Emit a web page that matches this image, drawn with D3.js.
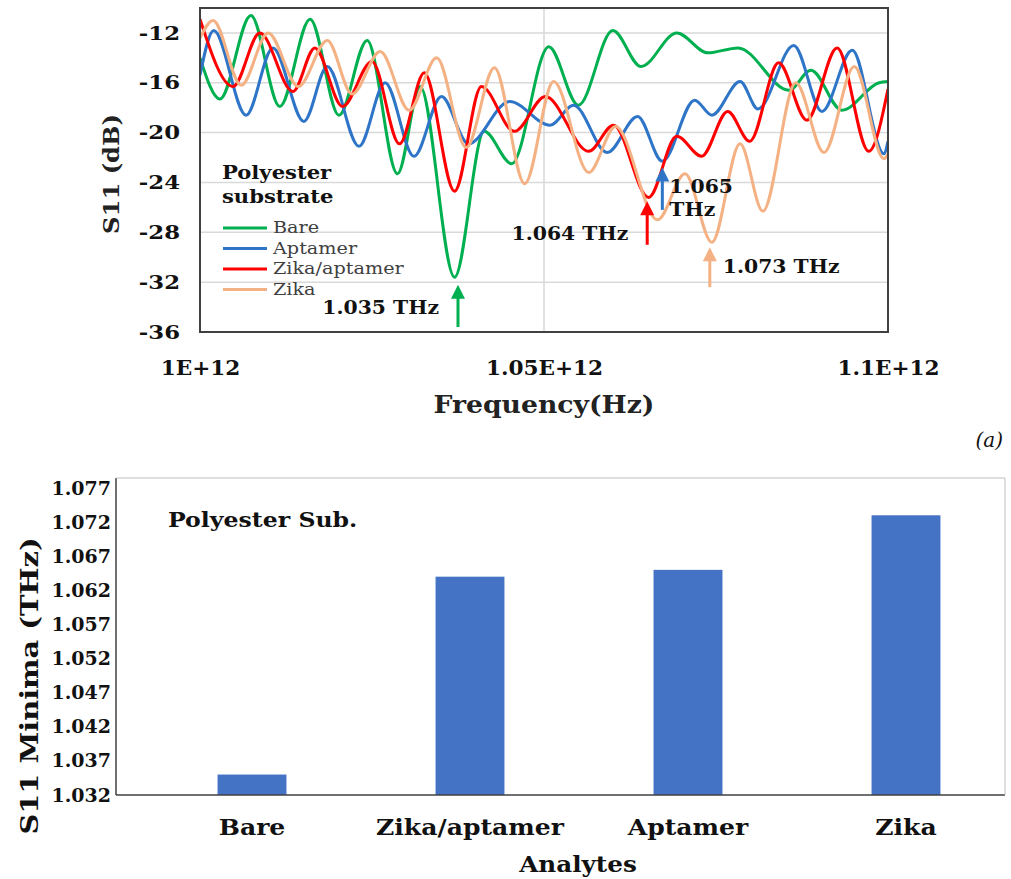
<!DOCTYPE html>
<html>
<head>
<meta charset="utf-8">
<script src="https://cdn.jsdelivr.net/npm/d3@7"></script>
<style>
  body { margin: 0; background: #fff; }
  text { font-family: Georgia, "DejaVu Serif", serif; }
</style>
</head>
<body>
<svg id="chart" width="1011" height="879"></svg>
<script>
// ---- data: top chart (frequency in GHz, S11 in dB) ----
let seriesNames = ["Bare", "Aptamer", "Zika/aptamer", "Zika"];
let seriesColors = ["#00b050", "#2e75c8", "#ff0000", "#f4b183"];

let freqBare = [1000, 1002.9, 1007.4, 1011.6, 1016.0, 1020.2, 1024.3, 1028.7, 1032.0, 1037.0, 1041.3, 1045.3, 1050.7, 1055.0, 1060.0, 1064.1, 1069.3, 1073.8, 1078.2, 1085.6, 1088.8, 1093.3, 1098.7, 1100];
let s11Bare  = [-14.0, -17.3, -10.6, -17.9, -10.9, -18.6, -12.6, -23.3, -16.3, -31.6, -19.9, -22.5, -13.1, -17.8, -11.8, -14.7, -12.0, -13.6, -13.2, -16.6, -15.0, -18.2, -16.0, -15.9];

let freqAptamer = [1000, 1002.0, 1006.7, 1010.6, 1015.1, 1018.5, 1023.1, 1026.9, 1031.1, 1035.1, 1039.0, 1045.0, 1050.9, 1054.3, 1059.2, 1063.6, 1067.2, 1071.9, 1074.4, 1078.5, 1081.1, 1086.3, 1090.4, 1094.8, 1099.4, 1100];
let s11Aptamer  = [-15.4, -11.8, -18.6, -13.2, -19.1, -14.7, -21.1, -16.0, -21.9, -17.1, -20.9, -17.5, -19.4, -17.8, -21.6, -18.7, -22.3, -17.4, -18.6, -15.9, -18.1, -13.0, -18.3, -13.4, -21.7, -20.7];

let freqZikaApt = [1000, 1004.8, 1008.7, 1013.5, 1016.7, 1020.7, 1025.0, 1029.0, 1032.6, 1037.0, 1040.9, 1045.7, 1050.2, 1056.5, 1060.1, 1065.2, 1069.3, 1072.9, 1076.7, 1079.9, 1084.1, 1088.2, 1092.6, 1097.2, 1100];
let s11ZikaApt  = [-10.9, -16.3, -12.0, -16.7, -13.2, -17.9, -14.3, -20.9, -15.2, -24.7, -16.3, -19.9, -17.1, -21.5, -19.4, -25.2, -20.3, -21.9, -18.3, -20.7, -14.4, -19.0, -13.2, -21.5, -16.5];

let freqZika = [1000, 1001.9, 1006.0, 1009.9, 1014.3, 1018.5, 1022.1, 1026.2, 1030.4, 1034.4, 1038.7, 1042.8, 1047.2, 1051.4, 1056.5, 1060.4, 1066.5, 1070.5, 1074.4, 1078.5, 1081.8, 1086.6, 1090.7, 1095.1, 1099.4, 1100];
let s11Zika  = [-12.4, -11.0, -16.2, -12.0, -16.3, -12.6, -16.9, -13.5, -18.2, -14.0, -21.2, -14.8, -24.1, -15.9, -23.2, -19.5, -27.0, -23.3, -28.8, -20.9, -26.3, -16.0, -21.6, -14.7, -22.1, -21.7];

let xTicksTop = [1000, 1050, 1100];
let xTickLabelsTop = ["1E+12", "1.05E+12", "1.1E+12"];
let yTicksTop = [-36, -32, -28, -24, -20, -16, -12];

// arrows marking the minima
let arrowFreq  = [1037.5, 1065.0, 1067.2, 1074.1];
let arrowTip   = [-32.2, -25.5, -22.8, -29.2];
let arrowTail  = [-35.6, -29.0, -26.2, -32.4];
let arrowColor = ["#00b050", "#ff0000", "#2e75c8", "#f4b183"];
let arrowLabel = [["1.035 THz"], ["1.064 THz"], ["1.065", "THz"], ["1.073 THz"]];

// ---- data: bottom chart ----
let analytes = ["Bare", "Zika/aptamer", "Aptamer", "Zika"];
let minimaTHz = [1.035, 1.064, 1.065, 1.073];
let yTicksBottom = [1.032, 1.037, 1.042, 1.047, 1.052, 1.057, 1.062, 1.067, 1.072, 1.077];

const svg = d3.select("#chart");
svg.append("rect").attr("width", 1011).attr("height", 879).attr("fill", "#fff");

// the source figure is stretched sideways, so widen the text glyphs a bit
function widen(sel, k) {
  sel.each(function() {
    let L = this.getComputedTextLength();
    this.setAttribute("textLength", L * k);
    this.setAttribute("lengthAdjust", "spacingAndGlyphs");
  });
}

// ================= top chart =================
let pA = { left: 200, right: 888, top: 8, bottom: 332 };

const xTop = d3.scaleLinear().domain([1000, 1100]).range([pA.left, pA.right]);
const yTop = d3.scaleLinear().domain([-36, -10]).range([pA.bottom, pA.top]);

const gA = svg.append("g");

// grid
gA.append("g")
  .selectAll("line")
  .data(yTicksTop.filter(d => d > -36))
  .enter().append("line")
  .attr("x1", pA.left).attr("x2", pA.right)
  .attr("y1", d => yTop(d)).attr("y2", d => yTop(d))
  .attr("stroke", "#d9d9d9").attr("stroke-width", 1.5);

gA.append("line")
  .attr("x1", xTop(1050)).attr("x2", xTop(1050))
  .attr("y1", pA.top).attr("y2", pA.bottom)
  .attr("stroke", "#d9d9d9").attr("stroke-width", 1.5);

// series
let series = [
  [freqBare, s11Bare],
  [freqAptamer, s11Aptamer],
  [freqZikaApt, s11ZikaApt],
  [freqZika, s11Zika]
];

svg.append("clipPath").attr("id", "clipA")
  .append("rect")
  .attr("x", pA.left).attr("y", pA.top)
  .attr("width", pA.right - pA.left).attr("height", pA.bottom - pA.top);

const line = d3.line()
  .x(d => xTop(d[0]))
  .y(d => yTop(d[1]))
  .curve(d3.curveMonotoneX);

series.forEach(function(s, i) {
  let pts = s[0].map((f, k) => [f, s[1][k]]);
  gA.append("path")
    .datum(pts)
    .attr("clip-path", "url(#clipA)")
    .attr("d", line)
    .attr("fill", "none")
    .attr("stroke", seriesColors[i])
    .attr("stroke-width", 3)
    .attr("stroke-linejoin", "round");
});

// frame
gA.append("rect")
  .attr("x", pA.left).attr("y", pA.top)
  .attr("width", pA.right - pA.left).attr("height", pA.bottom - pA.top)
  .attr("fill", "none").attr("stroke", "#404040").attr("stroke-width", 2);

// axes
const yAxisTop = d3.axisLeft(yTop).tickValues(yTicksTop)
  .tickFormat(d => String(d)).tickSize(0).tickPadding(20);
gA.append("g")
  .attr("transform", `translate(${pA.left},0)`)
  .call(yAxisTop)
  .call(g => g.select(".domain").remove())
  .selectAll("text")
  .attr("font-size", 19).attr("font-weight", "bold").attr("fill", "#111")
  .call(widen, 1.2);

const xAxisTop = d3.axisBottom(xTop).tickValues(xTicksTop)
  .tickFormat((d, i) => xTickLabelsTop[i]).tickSize(0).tickPadding(29);
gA.append("g")
  .attr("transform", `translate(0,${pA.bottom})`)
  .call(xAxisTop)
  .call(g => g.select(".domain").remove())
  .selectAll("text")
  .attr("font-size", 20).attr("font-weight", "bold").attr("fill", "#111")
  .call(widen, 1.08);

gA.append("text")
  .attr("transform", "translate(119,174) rotate(-90)")
  .attr("text-anchor", "middle")
  .attr("font-size", 22).attr("font-weight", "bold").attr("fill", "#222")
  .text("S11 (dB)")
  .call(widen, 1.1);

gA.append("text")
  .attr("x", 544).attr("y", 413)
  .attr("text-anchor", "middle")
  .attr("font-size", 24).attr("font-weight", "bold").attr("fill", "#222")
  .text("Frequency(Hz)")
  .call(widen, 1.11);

// legend
gA.append("text").attr("x", 222).attr("y", 179)
  .attr("font-size", 19).attr("font-weight", "bold").attr("fill", "#111")
  .text("Polyester").call(widen, 1.11);
gA.append("text").attr("x", 222).attr("y", 203)
  .attr("font-size", 19).attr("font-weight", "bold").attr("fill", "#111")
  .text("substrate").call(widen, 1.11);

seriesNames.forEach(function(n, i) {
  let ly = 228 + i * 20.5;
  gA.append("line")
    .attr("x1", 223).attr("x2", 267)
    .attr("y1", ly).attr("y2", ly)
    .attr("stroke", seriesColors[i]).attr("stroke-width", 3);
  gA.append("text")
    .attr("x", 273).attr("y", ly + 5)
    .attr("font-size", 16).attr("fill", "#404040")
    .text(n).call(widen, 1.2);
});

// arrows + labels
arrowFreq.forEach(function(f, i) {
  let ax = xTop(f), tipY = yTop(arrowTip[i]), tailY = yTop(arrowTail[i]);
  gA.append("line")
    .attr("x1", ax).attr("x2", ax)
    .attr("y1", tipY + 10).attr("y2", tailY)
    .attr("stroke", arrowColor[i]).attr("stroke-width", 3);
  gA.append("path")
    .attr("d", `M${ax},${tipY} L${ax - 7},${tipY + 14} L${ax + 7},${tipY + 14} Z`)
    .attr("fill", arrowColor[i]);
});

function arrowText(i, tx, ty, anchor) {
  let t = gA.append("text")
    .attr("x", tx).attr("y", ty)
    .attr("text-anchor", anchor)
    .attr("font-size", 18).attr("font-weight", "bold").attr("fill", "#111");
  arrowLabel[i].forEach(function(s, k) {
    t.append("tspan").attr("x", tx).attr("dy", k === 0 ? 0 : 23).text(s);
  });
  widen(t.selectAll("tspan"), 1.13);
}
arrowText(0, xTop(arrowFreq[0]) - 19, yTop(arrowTip[0]) + 29, "end");
arrowText(1, xTop(arrowFreq[1]) - 19, yTop(arrowTip[1]) + 39, "end");
arrowText(2, xTop(arrowFreq[2]) + 7, yTop(arrowTip[2]) + 25, "start");
arrowText(3, xTop(arrowFreq[3]) + 13, yTop(arrowTip[3]) + 26, "start");

svg.append("text")
  .attr("x", 1003).attr("y", 447)
  .attr("text-anchor", "end")
  .attr("font-size", 20).attr("font-style", "italic").attr("fill", "#111")
  .text("(a)");

// ================= bottom chart =================
let pB = { left: 116, right: 1005, top: 478, bottom: 795 };

const yBot = d3.scaleLinear().domain([1.032, 1.077]).range([pB.bottom, 488]);
const xBot = d3.scaleBand().domain(analytes).range([143, 1015])
  .paddingInner(0.684).paddingOuter(0.342);

const gB = svg.append("g");

gB.selectAll("rect.bar")
  .data(analytes)
  .enter().append("rect")
  .attr("class", "bar")
  .attr("x", d => xBot(d))
  .attr("width", xBot.bandwidth())
  .attr("y", (d, i) => yBot(minimaTHz[i]))
  .attr("height", (d, i) => pB.bottom - yBot(minimaTHz[i]))
  .attr("fill", "#4472c4");

// frame lines
gB.append("line").attr("x1", pB.left).attr("x2", pB.left)
  .attr("y1", pB.top).attr("y2", pB.bottom)
  .attr("stroke", "#404040").attr("stroke-width", 1.5);
gB.append("line").attr("x1", pB.left).attr("x2", pB.right)
  .attr("y1", pB.bottom).attr("y2", pB.bottom)
  .attr("stroke", "#404040").attr("stroke-width", 1.5);
gB.append("line").attr("x1", pB.right).attr("x2", pB.right)
  .attr("y1", pB.top).attr("y2", pB.bottom)
  .attr("stroke", "#bfbfbf").attr("stroke-width", 1);
gB.append("line").attr("x1", pB.left).attr("x2", pB.right)
  .attr("y1", pB.top).attr("y2", pB.top)
  .attr("stroke", "#bfbfbf").attr("stroke-width", 1);

const yAxisBot = d3.axisLeft(yBot).tickValues(yTicksBottom)
  .tickFormat(d3.format(".3f")).tickSize(0).tickPadding(5);
gB.append("g")
  .attr("transform", `translate(${pB.left},0)`)
  .call(yAxisBot)
  .call(g => g.select(".domain").remove())
  .selectAll("text")
  .attr("font-size", 19).attr("font-weight", "bold").attr("fill", "#111");

const xAxisBot = d3.axisBottom(xBot).tickSize(0).tickPadding(24);
gB.append("g")
  .attr("transform", `translate(0,${pB.bottom})`)
  .call(xAxisBot)
  .call(g => g.select(".domain").remove())
  .selectAll("text")
  .attr("font-size", 22).attr("font-weight", "bold").attr("fill", "#111")
  .call(widen, 1.14);

gB.append("text")
  .attr("x", 578).attr("y", 872)
  .attr("text-anchor", "middle")
  .attr("font-size", 22).attr("font-weight", "bold").attr("fill", "#111")
  .text("Analytes").call(widen, 1.12);

gB.append("text")
  .attr("transform", "translate(38,686) rotate(-90)")
  .attr("text-anchor", "middle")
  .attr("font-size", 24).attr("font-weight", "bold").attr("fill", "#111")
  .text("S11 Minima (THz)").call(widen, 1.2);

gB.append("text")
  .attr("x", 168).attr("y", 527)
  .attr("font-size", 20).attr("font-weight", "bold").attr("fill", "#111")
  .text("Polyester Sub.").call(widen, 1.18);
</script>
</body>
</html>
